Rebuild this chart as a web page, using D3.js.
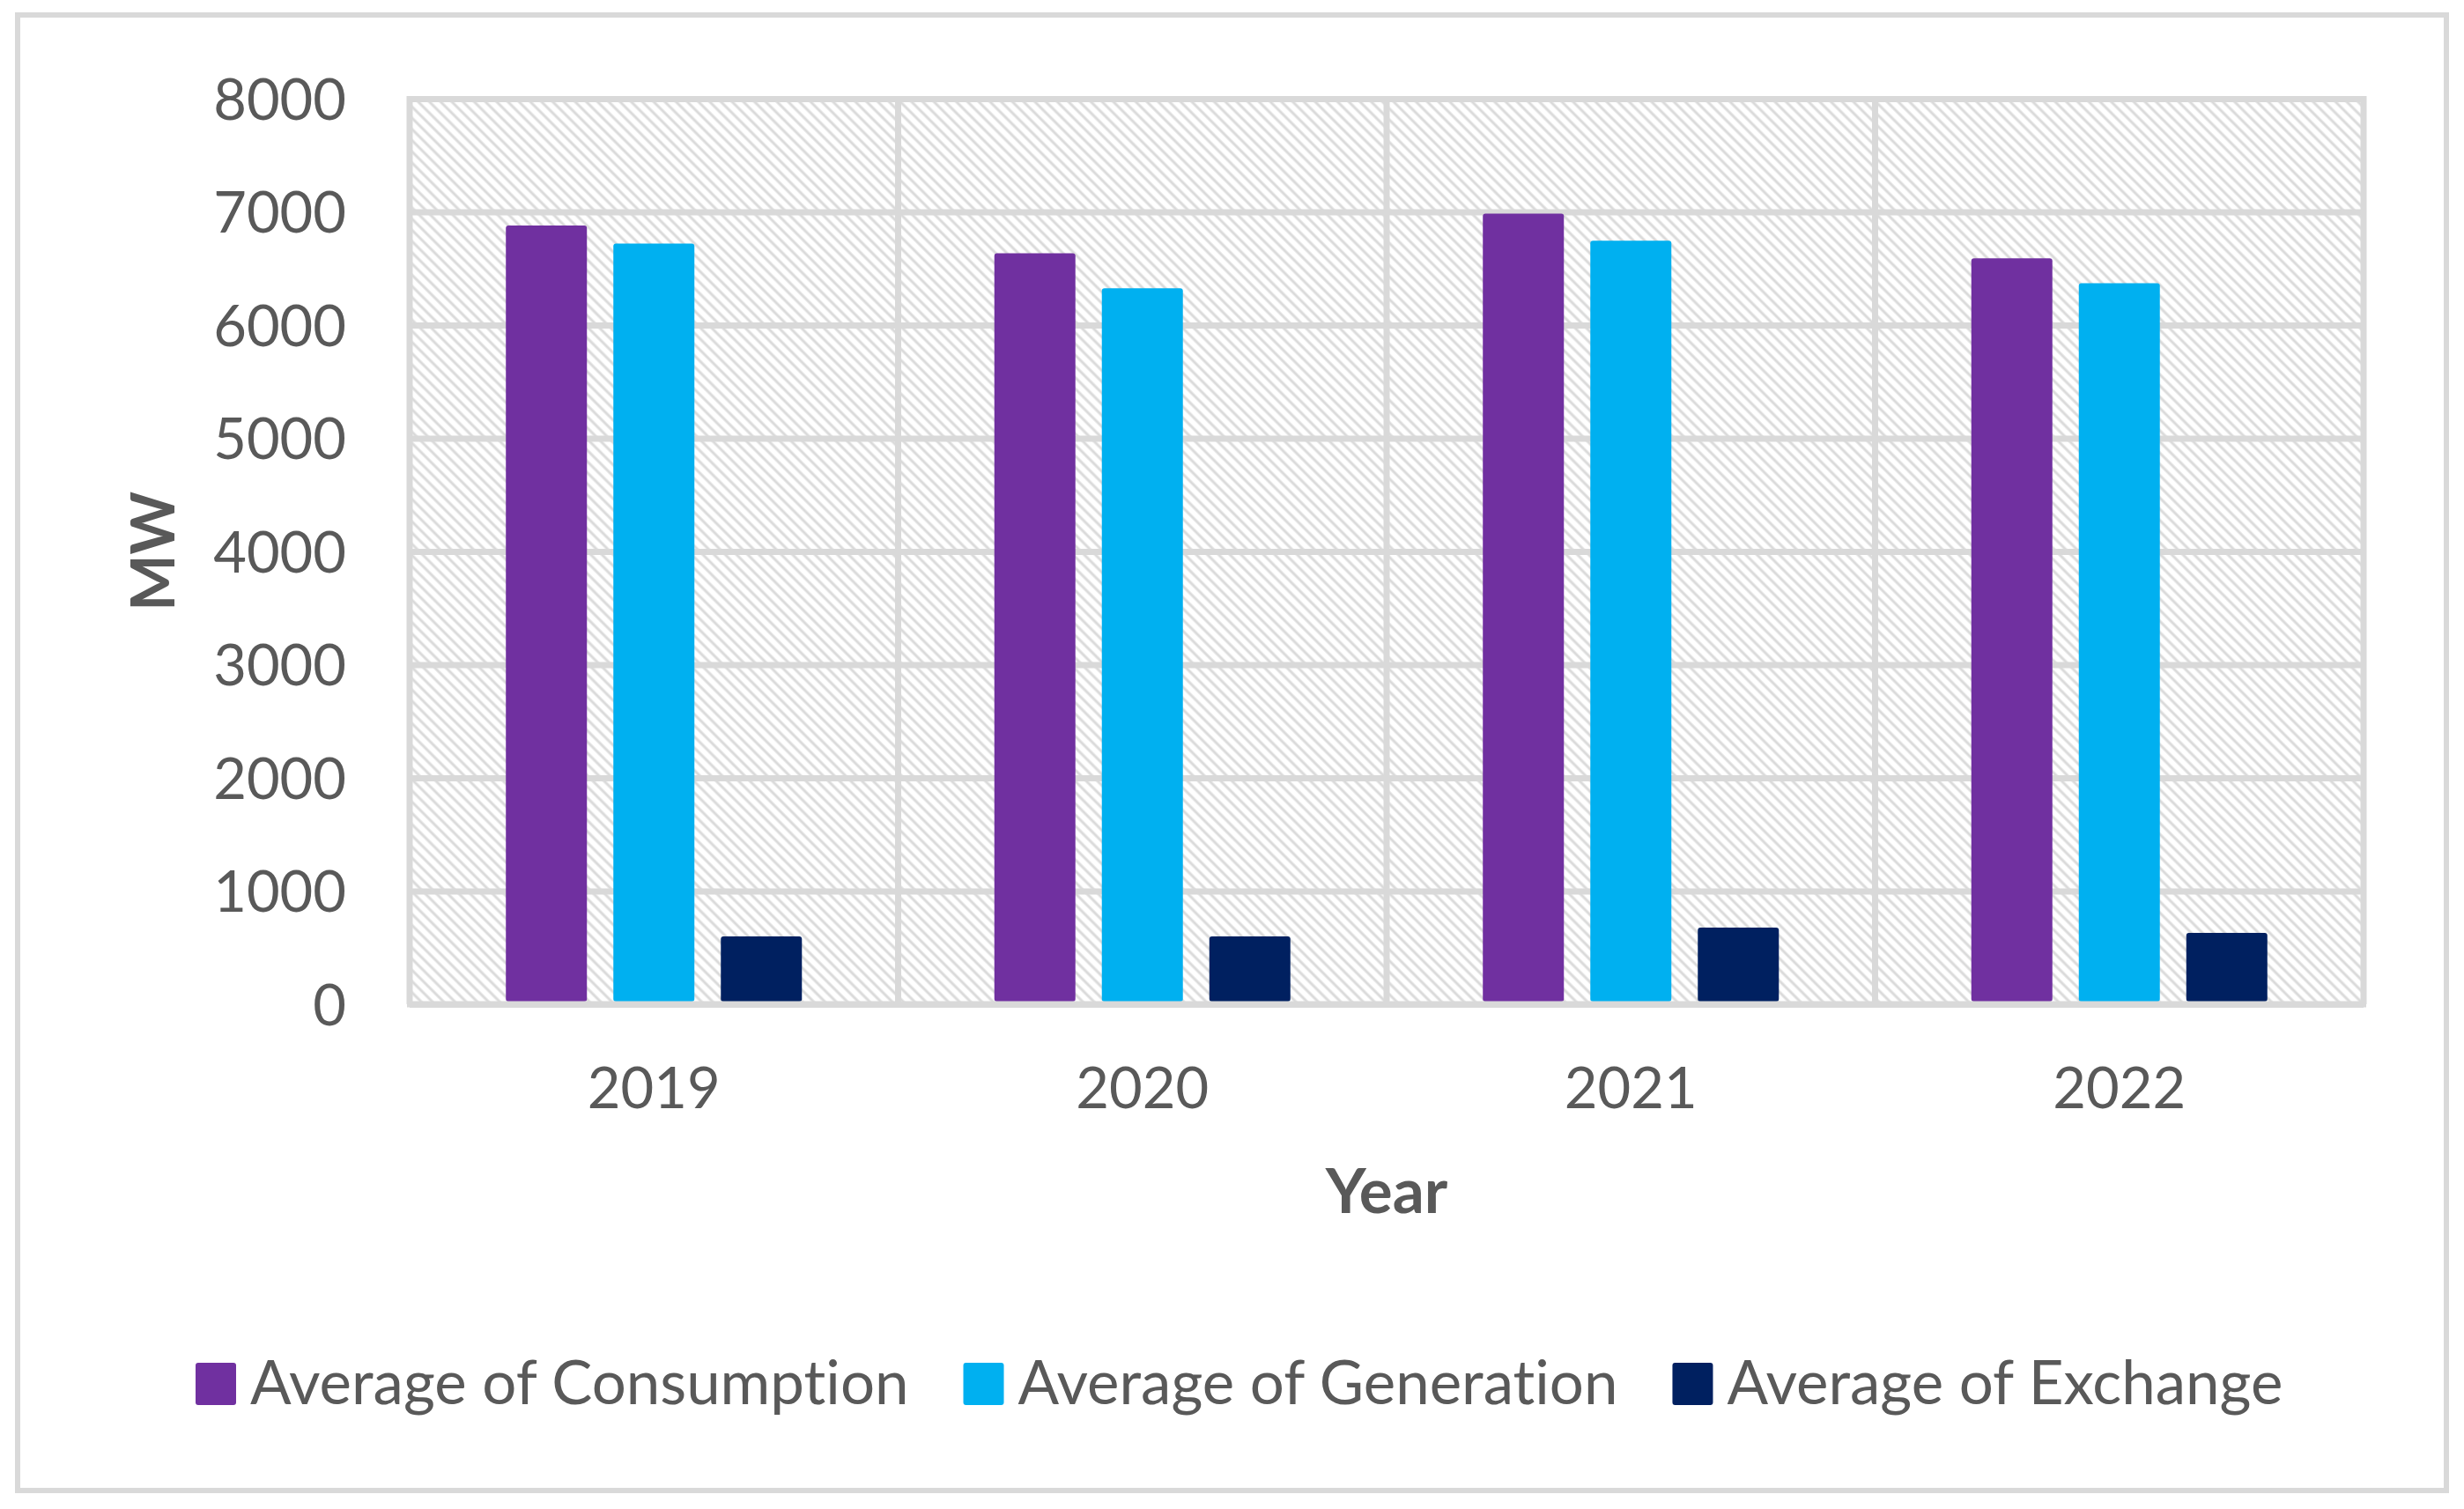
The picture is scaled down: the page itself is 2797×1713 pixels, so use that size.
<!DOCTYPE html>
<html>
<head>
<meta charset="utf-8">
<script src="https://cdn.jsdelivr.net/npm/d3@7"></script>
<style>
  html, body { margin: 0; padding: 0; background: #ffffff; }
  svg { display: block; }
  text { font-family: Lato, "Open Sans", sans-serif; fill: #595959; font-variant-ligatures: none; font-feature-settings: "liga" 0; }
</style>
</head>
<body>
<svg id="chart" width="2797" height="1713"></svg>
<script>
const years = ["2019", "2020", "2021", "2022"];
const seriesNames = ["Average of Consumption", "Average of Generation", "Average of Exchange"];
const consumption = [6880, 6635, 6985, 6590];
const generation = [6720, 6325, 6745, 6370];
const exchange = [600, 600, 678, 630];
const seriesColors = ["#7030A0", "#00B0F0", "#002060"];
const yTicks = [0, 1000, 2000, 3000, 4000, 5000, 6000, 7000, 8000];

const seriesValues = [consumption, generation, exchange];

const W = 2797, H = 1713;
const plot = { left: 465, right: 2683, top: 112, bottom: 1140 };
const grid = "#d9d9d9";

const svg = d3.select("#chart");

// outer frame
svg.append("rect")
  .attr("x", 20).attr("y", 17)
  .attr("width", 2757).attr("height", 1675)
  .attr("fill", "#fff").attr("stroke", grid).attr("stroke-width", 6);

// hatch pattern
const defs = svg.append("defs");
const pat = defs.append("pattern")
  .attr("id", "hatch")
  .attr("patternUnits", "userSpaceOnUse")
  .attr("width", 9).attr("height", 9)
  .attr("patternTransform", "rotate(-45)");
pat.append("rect").attr("width", 9).attr("height", 9).attr("fill", "#fff");
pat.append("line")
  .attr("x1", 2).attr("y1", 0).attr("x2", 2).attr("y2", 9)
  .attr("stroke", "#dadada").attr("stroke-width", 3);

const x0 = d3.scaleBand().domain(years).range([plot.left, plot.right]).padding(0);
const bw = x0.bandwidth();
const groupW = bw * 0.606;
const x1 = d3.scaleBand().domain(seriesNames)
  .range([(bw - groupW) / 2, (bw + groupW) / 2])
  .paddingInner(0.246).paddingOuter(0);
const y = d3.scaleLinear().domain([0, 8000]).range([plot.bottom, plot.top]);

// plot background
svg.append("rect")
  .attr("x", plot.left).attr("y", plot.top)
  .attr("width", plot.right - plot.left).attr("height", plot.bottom - plot.top)
  .attr("fill", "url(#hatch)");

// horizontal gridlines
const yGrid = svg.append("g")
  .attr("transform", `translate(${plot.left},0)`)
  .call(d3.axisLeft(y).tickValues(yTicks).tickSize(-(plot.right - plot.left)).tickFormat(""));
yGrid.select(".domain").remove();
yGrid.selectAll("line").attr("stroke", grid).attr("stroke-width", 7);

// vertical gridlines at category boundaries
const bounds = years.map(d => x0(d)).concat([plot.right]);
svg.append("g").selectAll("line")
  .data(bounds)
  .join("line")
  .attr("x1", d => d).attr("x2", d => d)
  .attr("y1", plot.top - 3).attr("y2", plot.bottom)
  .attr("stroke", grid).attr("stroke-width", 7);

// bars
const groups = svg.append("g").selectAll("g")
  .data(years)
  .join("g")
  .attr("transform", d => `translate(${x0(d)},0)`);
groups.selectAll("rect")
  .data((d, i) => seriesNames.map((s, j) => ({ s, j, v: seriesValues[j][i] })))
  .join("rect")
  .attr("x", d => x1(d.s))
  .attr("width", x1.bandwidth())
  .attr("y", d => y(d.v))
  .attr("height", d => y(0) - y(d.v) - 3)
  .attr("rx", 3)
  .attr("fill", d => seriesColors[d.j]);

// bottom axis line
svg.append("line")
  .attr("x1", plot.left - 3).attr("x2", plot.right + 3)
  .attr("y1", plot.bottom).attr("y2", plot.bottom)
  .attr("stroke", grid).attr("stroke-width", 7);

// y axis labels
const yAxis = svg.append("g")
  .attr("transform", `translate(${plot.left},0)`)
  .call(d3.axisLeft(y).tickValues(yTicks).tickSize(0).tickPadding(72).tickFormat(d3.format("d")));
yAxis.select(".domain").remove();
yAxis.selectAll("text")
  .style("font-size", "65px").style("font-family", "Lato, sans-serif")
  .attr("fill", "#595959").attr("dy", "0.36em");

// x axis labels
const xAxis = svg.append("g")
  .attr("transform", `translate(0,${plot.bottom})`)
  .call(d3.axisBottom(x0).tickSize(0));
xAxis.select(".domain").remove();
xAxis.selectAll("text")
  .style("font-size", "65px").style("font-family", "Lato, sans-serif")
  .attr("fill", "#595959").attr("y", 95).attr("dy", "0.36em");

// axis titles
svg.append("text")
  .attr("x", (plot.left + plot.right) / 2).attr("y", 1377)
  .attr("text-anchor", "middle")
  .style("font-size", "71px").style("font-weight", "bold")
  .text("Year");
svg.append("text")
  .attr("transform", `translate(198,${(plot.top + plot.bottom) / 2}) rotate(-90)`)
  .attr("text-anchor", "middle")
  .style("font-size", "68px").style("font-weight", "bold")
  .text("MW");

// legend
const legend = svg.append("g");
let lx = 222;
seriesNames.forEach((name, i) => {
  legend.append("rect")
    .attr("x", lx).attr("y", 1547)
    .attr("width", 46).attr("height", 48).attr("rx", 3)
    .attr("fill", seriesColors[i]);
  const t = legend.append("text")
    .attr("x", lx + 62).attr("y", 1594)
    .style("font-size", "69px")
    .text(name);
  const tw = t.node().getComputedTextLength();
  lx = lx + 62 + tw + 62;
});
</script>
</body>
</html>
